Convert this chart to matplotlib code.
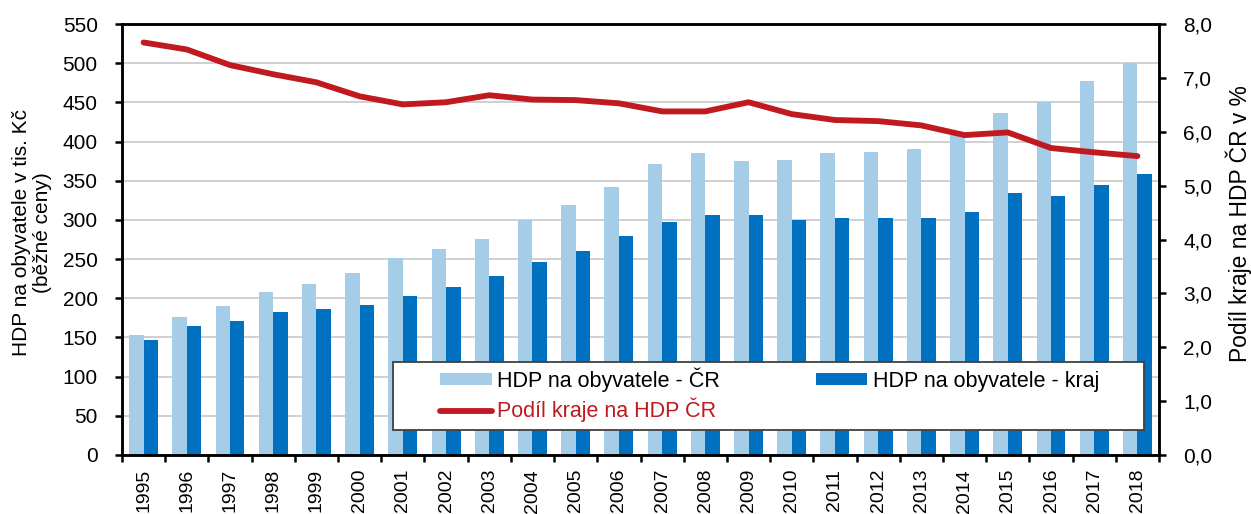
import numpy as np
import matplotlib.pyplot as plt
from matplotlib.patches import Rectangle

plt.rcParams['font.family'] = ['Liberation Sans', 'DejaVu Sans']

# -------------------------------------------------------------------
# DATA
# -------------------------------------------------------------------
years = [str(y) for y in range(1995, 2019)]
hdp_cr = [153, 176, 190, 208, 218, 232, 251, 263, 276, 300, 319, 342,
          372, 386, 375, 377, 385, 387, 390, 410, 436, 451, 477, 500]
hdp_kraj = [147, 165, 171, 183, 187, 191, 203, 214, 229, 246, 261, 279,
            297, 307, 307, 300, 302, 303, 302, 310, 334, 330, 345, 359]
podil = [7.66, 7.53, 7.24, 7.07, 6.92, 6.66, 6.51, 6.55, 6.68, 6.60, 6.59, 6.53,
         6.38, 6.38, 6.55, 6.33, 6.22, 6.20, 6.12, 5.94, 5.99, 5.70, 5.62, 5.55]

C_LIGHT = "#A6CDE8"
C_DARK = "#0070C0"
C_RED = "#C0191F"

# -------------------------------------------------------------------
# PLOT
# -------------------------------------------------------------------
fig = plt.figure(figsize=(12.51, 5.14), dpi=100)
ax = fig.add_axes([0.0975, 0.1148, 0.829, 0.8382])
ax2 = ax.twinx()

x = np.arange(len(years))
w = 0.335
b1 = ax.bar(x - w / 2, hdp_cr, width=w, color=C_LIGHT, zorder=2)
b2 = ax.bar(x + w / 2, hdp_kraj, width=w, color=C_DARK, zorder=2)
ln, = ax2.plot(x, podil, color=C_RED, lw=4.2, solid_capstyle="round")

ax.set_xlim(-0.5, len(years) - 0.5)
ax.set_ylim(0, 550)
ax.set_yticks(np.arange(0, 551, 50))
ax2.set_ylim(0, 8)
ax2.set_yticks(np.arange(0, 8.1, 1))
ax2.set_yticklabels([f"{v:.1f}".replace(".", ",") for v in np.arange(0, 8.1, 1)])

ax.yaxis.grid(True, color="#C8C8C8", lw=1.2, zorder=0)
ax.set_axisbelow(True)

ax.set_xticks(x)
ax.set_xticklabels(years, rotation=90, fontsize=14)
ax.set_xticks(np.arange(-0.5, len(years), 1), minor=True)
ax.tick_params(axis="x", which="major", length=0, pad=10)
ax.tick_params(axis="x", which="minor", length=5, width=1.8, direction="out")
ax.tick_params(axis="y", labelsize=15, length=5, width=1.8, direction="out", pad=12.5)
ax2.tick_params(axis="y", labelsize=15, length=5, width=1.8, direction="out", pad=12.5)

for a in (ax, ax2):
    for s in a.spines.values():
        s.set_linewidth(1.8)
        s.set_color("black")

ax.set_ylabel("HDP na obyvatele v tis. Kč\n(běžné ceny)", fontsize=15,
              linespacing=1.1)
ax.yaxis.set_label_coords(-0.0675, 0.517)
ax2.set_ylabel("Podíl kraje na HDP ČR v %", fontsize=16.4)
ax2.yaxis.set_label_coords(1.0636, 0.538)

# legend frame drawn separately, entries placed inside it
ax2.add_patch(Rectangle((0.261, 0.058), 0.7245, 0.158, transform=ax2.transAxes,
                        facecolor="white", edgecolor="#404040", lw=1.3,
                        zorder=10, clip_on=False))
leg = ax2.legend([b1, ln, b2],
                 ["HDP na obyvatele - ČR", "Podíl kraje na HDP ČR",
                  "HDP na obyvatele - kraj"],
                 ncol=2, loc="upper left",
                 bbox_to_anchor=((440 - 122) / 1037, (455 - 367) / 431),
                 fontsize=15.5, frameon=False, handlelength=2.4,
                 handleheight=0.5, handletextpad=0.25, borderpad=0,
                 borderaxespad=0, columnspacing=4.45, labelspacing=0.3)
leg.set_zorder(11)
leg.get_texts()[1].set_color(C_RED)

plt.savefig("out.png", dpi=100)
